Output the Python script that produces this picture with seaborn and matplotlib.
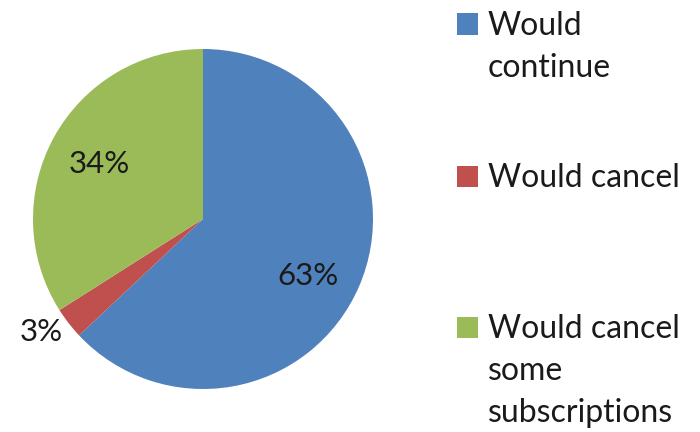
import matplotlib
matplotlib.use("Agg")
import matplotlib.pyplot as plt
import seaborn as sns
import numpy as np
from matplotlib.patches import Rectangle

# Survey responses
categories = ["Would continue", "Would cancel", "Would cancel some subscriptions"]
shares = [63, 3, 34]
legend_lines = [["Would", "continue"], ["Would cancel"], ["Would cancel", "some", "subscriptions"]]
colors = ["#4F81BD", "#C0504D", "#9BBB59"]

sns.set_theme(style="white")
plt.rcParams["font.family"] = ["Lato", "DejaVu Sans"]

W, H = 700, 432
fig = plt.figure(figsize=(W / 100, H / 100), dpi=100)
fig.patch.set_facecolor("white")

# Pie area: centre (203, 219), radius 170 px
cx, cy, r = 203, 219, 170
ax = fig.add_axes([(cx - r) / W, (H - cy - r) / H, 2 * r / W, 2 * r / H])
wedges, texts, autotexts = ax.pie(
    shares, colors=colors, startangle=90, counterclock=False,
    autopct=lambda p: f"{p:.0f}%", pctdistance=0.69,
    wedgeprops=dict(linewidth=0),
    textprops=dict(fontsize=22.5, color="#1a1a1a"),
)
ax.set_xlim(-1, 1)
ax.set_ylim(-1, 1)
ax.set_aspect("equal")
ax.axis("off")

# Label placement: (radius, angular nudge in degrees) per slice
label_place = [(0.70, -5), (1.16, -3), (0.69, 1)]
for w, t, (rad, nudge) in zip(wedges, autotexts, label_place):
    ang = np.deg2rad((w.theta1 + w.theta2) / 2 + nudge)
    t.set_position((rad * np.cos(ang), rad * np.sin(ang)))

# Legend drawn as coloured squares with wrapped labels (baselines in px)
fs = 23
first_baseline = [35, 187, 338]
pitch = 42
sq = 21
for col, lines, yb in zip(colors, legend_lines, first_baseline):
    yc = yb - 11
    fig.patches.append(Rectangle((457 / W, 1 - (yc + sq / 2) / H), sq / W, sq / H,
                                 transform=fig.transFigure, facecolor=col,
                                 edgecolor="none"))
    for i, line in enumerate(lines):
        fig.text(488 / W, 1 - (yb + i * pitch) / H, line, fontsize=fs,
                 color="#1a1a1a", va="baseline", ha="left")

fig.savefig("out.png", dpi=100, facecolor="white")
